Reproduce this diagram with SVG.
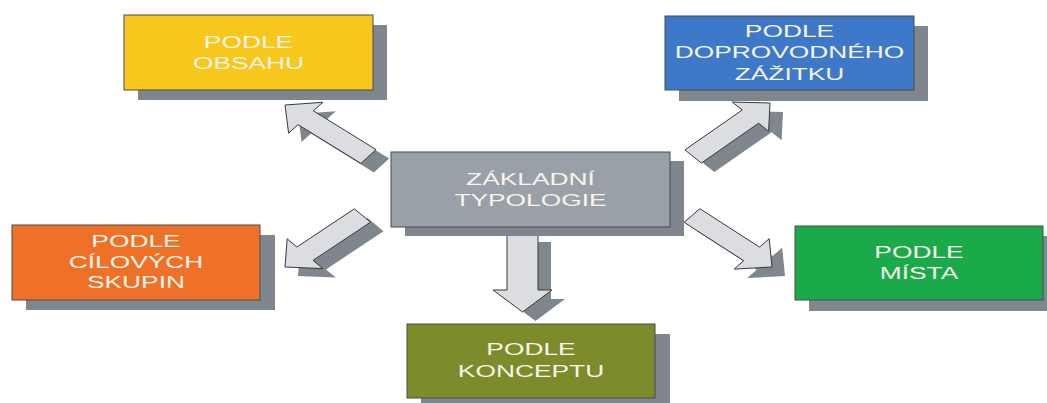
<svg xmlns="http://www.w3.org/2000/svg" width="1047" height="403" viewBox="0 0 1047 403">
<style>
.sh{fill:#80868e}
.box{stroke:#4a4a4a;stroke-width:1}
.arr{fill:#dcdde1;stroke:#3a3a3a;stroke-width:1;stroke-linejoin:miter}
.ash{fill:#80868e}
.t{font-family:"Liberation Sans",Arial,sans-serif;font-size:17px;fill:#f6f4ec;text-anchor:middle}
</style>
<rect width="1047" height="403" fill="#ffffff"/>
<g id="connectors">
  <g transform="translate(13,9)">
    <polygon class="ash" points="285,105 322.8,102.3 313.3,110.8 376.1,149.6 360.9,163.4 298,124.6 288.6,133.1"/>
    <polygon class="ash" points="770,103 768.6,131.2 758.6,123.2 701.3,163.1 684.9,149.9 742.2,110 732.2,102"/>
    <polygon class="ash" points="285,267 322.8,268.6 313,260.4 370.5,222.2 354.4,208.8 296.9,247 287.2,238.8"/>
    <polygon class="ash" points="772,267 769.2,238.7 759.5,247.1 699.9,208.7 684.1,222.3 743.7,260.7 734.2,269.1"/>
    <polygon class="ash" points="507,233 538,233 538,290 552,290 522.5,312 493,290 507,290"/>
  </g>
  <polygon id="arrow-obsah" class="arr" points="285,105 322.8,102.3 313.3,110.8 376.1,149.6 360.9,163.4 298,124.6 288.6,133.1"/>
  <polygon id="arrow-zazitek" class="arr" points="770,103 768.6,131.2 758.6,123.2 701.3,163.1 684.9,149.9 742.2,110 732.2,102"/>
  <polygon id="arrow-skupiny" class="arr" points="285,267 322.8,268.6 313,260.4 370.5,222.2 354.4,208.8 296.9,247 287.2,238.8"/>
  <polygon id="arrow-misto" class="arr" points="772,267 769.2,238.7 759.5,247.1 699.9,208.7 684.1,222.3 743.7,260.7 734.2,269.1"/>
  <polygon id="arrow-koncept" class="arr" points="507,233 538,233 538,290 552,290 522.5,312 493,290 507,290"/>
</g>
<g id="node-obsah">
  <rect class="sh" x="138" y="25" width="249" height="75"/>
  <rect class="box" x="124" y="15" width="249" height="75" fill="#f8c71c"/>
  <text class="t" transform="translate(248.5,48) scale(1.55,1)">PODLE</text>
  <text class="t" transform="translate(248.5,69) scale(1.55,1)">OBSAHU</text>
</g>
<g id="node-zazitek">
  <rect class="sh" x="679" y="26" width="249" height="75"/>
  <rect class="box" x="665" y="16" width="249" height="74" fill="#3e78c9"/>
  <text class="t" transform="translate(789.5,37) scale(1.55,1)">PODLE</text>
  <text class="t" transform="translate(789.5,58) scale(1.55,1)">DOPROVODNÉHO</text>
  <text class="t" transform="translate(789.5,80) scale(1.55,1)">ZÁŽITKU</text>
</g>
<g id="node-zakladni">
  <rect class="sh" x="405" y="161" width="279" height="75"/>
  <rect class="box" x="391" y="152" width="279" height="75" fill="#9aa0a8"/>
  <text class="t" transform="translate(530.5,185) scale(1.55,1)">ZÁKLADNÍ</text>
  <text class="t" transform="translate(530.5,206) scale(1.55,1)">TYPOLOGIE</text>
</g>
<g id="node-skupiny">
  <rect class="sh" x="26" y="235" width="249" height="75"/>
  <rect class="box" x="12" y="225" width="248" height="75" fill="#ee7127"/>
  <text class="t" transform="translate(136,247) scale(1.55,1)">PODLE</text>
  <text class="t" transform="translate(136,268) scale(1.55,1)">CÍLOVÝCH</text>
  <text class="t" transform="translate(136,288) scale(1.55,1)">SKUPIN</text>
</g>
<g id="node-misto">
  <rect class="sh" x="809" y="236" width="249" height="75"/>
  <rect class="box" x="795" y="226" width="248" height="74" fill="#1baa4a"/>
  <text class="t" transform="translate(919,258) scale(1.55,1)">PODLE</text>
  <text class="t" transform="translate(919,279) scale(1.55,1)">MÍSTA</text>
</g>
<g id="node-koncept">
  <rect class="sh" x="421" y="334" width="249" height="75"/>
  <rect class="box" x="407" y="324" width="248" height="74" fill="#7e8b2a"/>
  <text class="t" transform="translate(531,355) scale(1.55,1)">PODLE</text>
  <text class="t" transform="translate(531,377) scale(1.55,1)">KONCEPTU</text>
</g>
</svg>
